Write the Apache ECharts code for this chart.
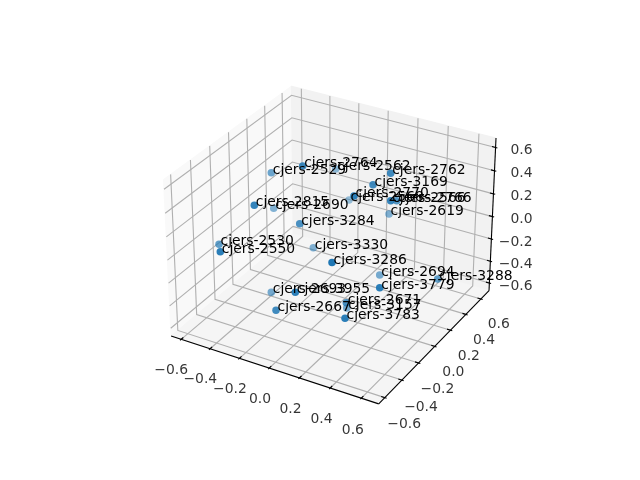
<!DOCTYPE html>
<html><head><meta charset="utf-8">
<style>html,body{margin:0;padding:0;background:#fff}#c{width:640px;height:480px}</style>
<script src="https://cdn.jsdelivr.net/npm/echarts@6/dist/echarts.min.js"></script>
</head><body><div id="c"></div>
<script>
// Sample names and their read-off positions on the view plane (the 3D points as seen), with depth shading
const names = ["cjers-2764","cjers-2562","cjers-2762","cjers-2529","cjers-3169","cjers-2770","cjers-2568","cjers-2566","cjers-2766","cjers-2619","cjers-2815","cjers-2690","cjers-3284","cjers-2530","cjers-2550","cjers-3330","cjers-3286","cjers-2694","cjers-3288","cjers-3779","cjers-2693","cjers-3955","cjers-2671","cjers-3157","cjers-2667","cjers-3783"];
const planeX = [302.7,335.7,390.7,271.3,373,354,349,390.7,396.7,389,254.3,273.7,299.7,219,220.3,313.3,332,379.7,437.7,379.7,271.3,295.3,346.3,346.7,276,345];
const planeY = [166,169,173.3,172.7,184.7,196,200,200.7,200.7,214,205.3,208.3,223.7,244.3,251.7,247.7,262.5,275,279,287.7,292.3,292.3,302.7,308,310.3,318.3];
const shade = [.85,.5,.85,.65,.85,.95,.45,.9,.75,.55,.9,.55,.8,.7,.95,.55,1,.6,.7,.95,.6,.95,.8,.6,.85,.95];
// Axis limits and ticks
const xLim = [-0.67,0.71], yLim = [-0.67,0.71], zLim = [-0.67,0.68];
const ticks = [-0.6,-0.4,-0.2,0,0.2,0.4,0.6];
const tickLabels = ["\u22120.6","\u22120.4","\u22120.2","0.0","0.2","0.4","0.6"];

const FONT = "DejaVu Sans", FS = 13.9;
// Camera: elevation 30, azimuth -60, distance 10, box aspect 4:4:3
const U=[.8660254,.5,0], V=[-.25,.4330127,.8660254], W=[.4330127,-.75,.5];
const boxScale = 1.9057/Math.sqrt(41), box=[4*boxScale,4*boxScale,3*boxScale];
function proj(x,y,z){
  const p=[((x-xLim[0])/(xLim[1]-xLim[0])-.5)*box[0],((y-yLim[0])/(yLim[1]-yLim[0])-.5)*box[1],((z-zLim[0])/(zLim[1]-zLim[0])-.5)*box[2]];
  const dot=a=>a[0]*p[0]+a[1]*p[1]+a[2]*p[2];
  const d=10-dot(W), X=dot(U)/d, Y=dot(V)/d, k=369.6/.185;
  return [143.2+(X+.095)*k, 427.2-(Y+.095)*k];
}
const [x0,x1]=xLim,[y0,y1]=yLim,[z0,z1]=zLim;
const dx=(x1-x0)/12,dy=(y1-y0)/12,dz=(z1-z0)/12;

function shapes(list,type,style,z){
  return {type:'custom',coordinateSystem:'cartesian2d',silent:true,z:z,clip:false,
    data:list.map((_,i)=>[i,0]),encode:{x:0,y:1},animation:false,
    renderItem:(params,api)=>({type:type,
      shape:{points:list[params.dataIndex].map(q=>api.coord(proj(q[0],q[1],q[2])))},
      style:Object.assign({},style)})};
}
const panes=[
  {pts:[[x0,y0,z0],[x0,y1,z0],[x0,y1,z1],[x0,y0,z1]],fill:'#f9f9f9'},
  {pts:[[x0,y1,z0],[x1,y1,z0],[x1,y1,z1],[x0,y1,z1]],fill:'#f2f2f2'},
  {pts:[[x0,y0,z0],[x1,y0,z0],[x1,y1,z0],[x0,y1,z0]],fill:'#f5f5f5'}
];
const gridLines=[], edgeLines=[], tickLines=[], labelData=[];
ticks.forEach((t,i)=>{
  gridLines.push([[t,y0,z0],[t,y1,z0],[t,y1,z1]]);
  gridLines.push([[x0,t,z1],[x0,t,z0],[x1,t,z0]]);
  gridLines.push([[x0,y0,t],[x0,y1,t],[x1,y1,t]]);
  tickLines.push([[t,y0-.1*dy,z0],[t,y0+.2*dy,z0]]);
  tickLines.push([[x1+.1*dx,t,z0],[x1-.2*dx,t,z0]]);
  tickLines.push([[x1+.1*dx,y1,t],[x1-.2*dx,y1,t]]);
  labelData.push({value:proj(t,y0-1.65*dy,z0).map((v,k)=>v+[8.5,15][k]),name:tickLabels[i],al:'center'});
  labelData.push({value:proj(x1+1.55*dx,t,z0).map((v,k)=>v+[-9,18][k]),name:tickLabels[i],al:'center'});
  labelData.push({value:[532.5,proj(x1,y1,t)[1]+3],name:tickLabels[i],al:'right'});
});
edgeLines.push([[x0,y0,z0],[x1,y0,z0]]);
edgeLines.push([[x1,y0,z0],[x1,y1,z0]]);
edgeLines.push([[x1,y1,z0],[x1,y1,z1]]);

const series=[];
panes.forEach(p=>series.push(shapes([p.pts],'polygon',{fill:p.fill,stroke:p.fill,lineWidth:1},1)));
series.push(shapes(gridLines,'polyline',{fill:'none',stroke:'#b0b0b0',lineWidth:1.1},2));
series.push(shapes(edgeLines.concat(tickLines),'polyline',{fill:'none',stroke:'#000',lineWidth:1.1},3));
series.push({type:'scatter',z:4,symbolSize:7.5,silent:true,animation:false,clip:false,
  data:names.map((n,i)=>({value:[planeX[i],planeY[i]],name:n,itemStyle:{color:'#1f77b4',opacity:shade[i]}}))});
series.push({type:'scatter',z:5,symbolSize:7,silent:true,animation:false,clip:false,itemStyle:{opacity:0},
  data:names.map((n,i)=>({value:[planeX[i],planeY[i]],name:n,
    label:{show:true,formatter:n,position:[5,9],align:'left',verticalAlign:'bottom',opacity:1,
      fontFamily:FONT,fontSize:FS,color:'#000',lineHeight:FS*1.16}}))});
series.push({type:'scatter',z:5,symbolSize:0,silent:true,animation:false,clip:false,
  data:labelData.map(d=>({value:d.value,label:{show:true,formatter:d.name,position:'inside',align:d.al,verticalAlign:'middle',
    fontFamily:FONT,fontSize:FS,color:'#000'}}))});

const chart=echarts.init(document.getElementById('c'),null,{renderer:'canvas'});
chart.setOption({animation:false,backgroundColor:'#fff',
  grid:{left:0,right:0,top:0,bottom:0},
  xAxis:{type:'value',min:0,max:640,show:false},
  yAxis:{type:'value',min:0,max:480,inverse:true,show:false},
  series:series});
</script></body></html>
